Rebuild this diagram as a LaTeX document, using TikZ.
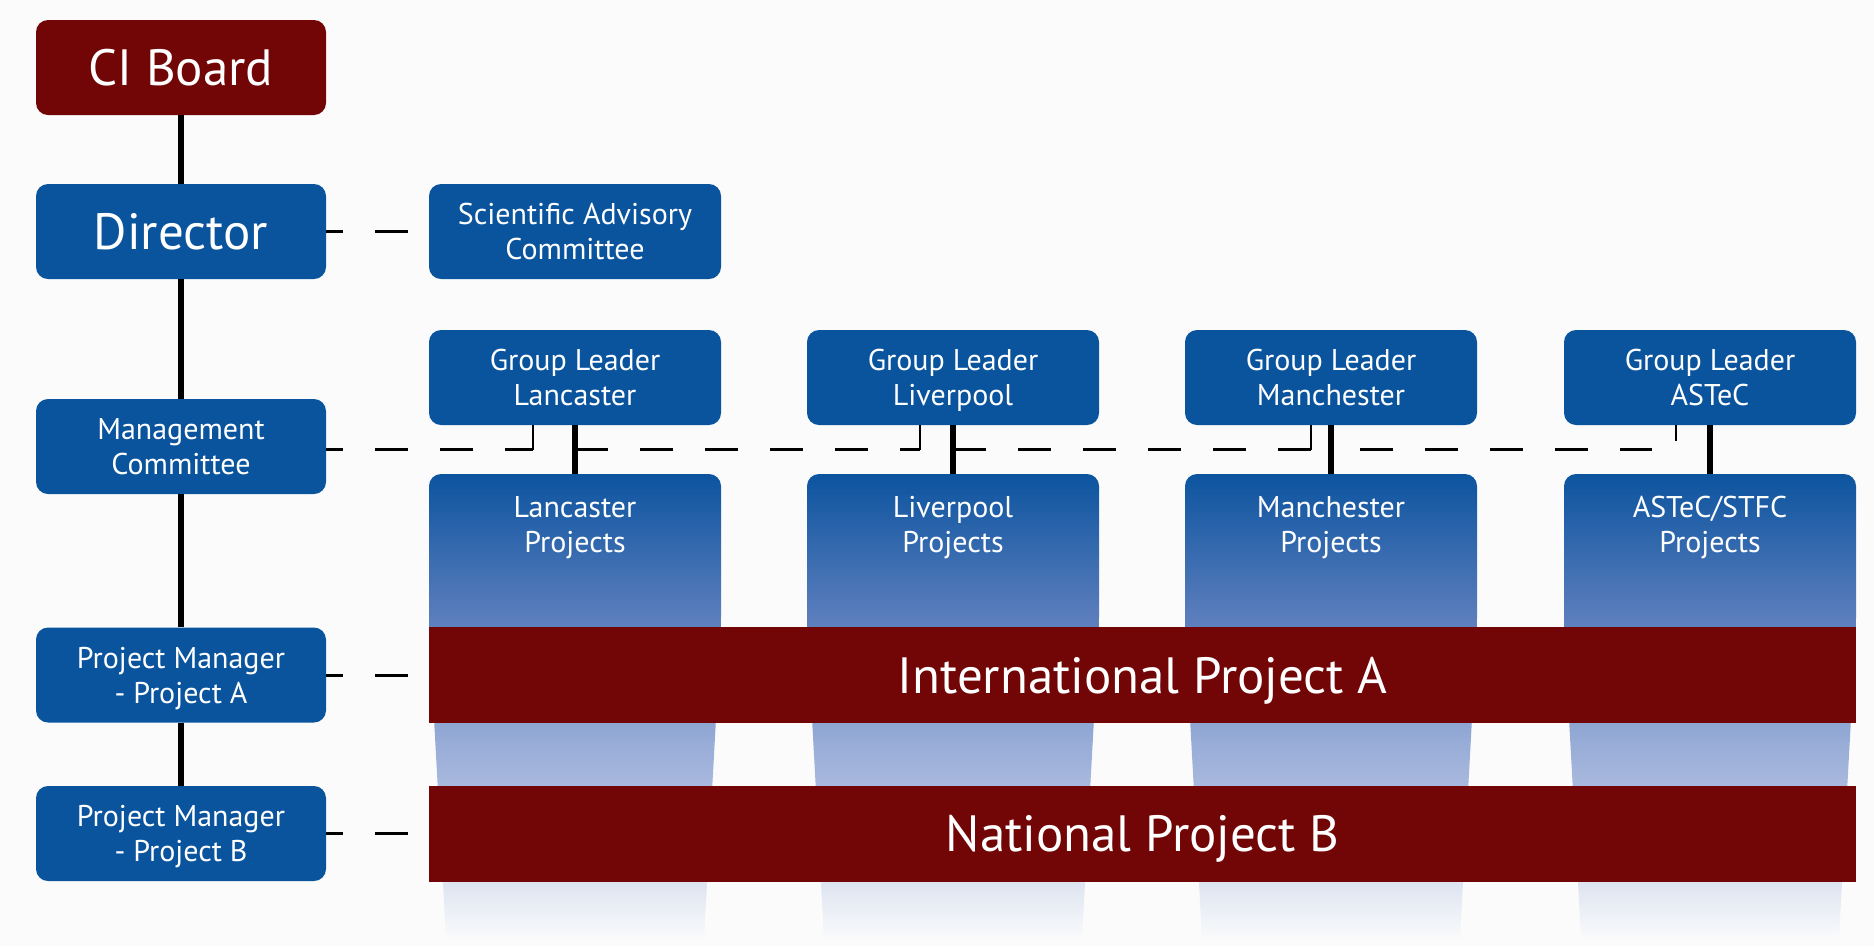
\documentclass[tikz,border=0pt]{standalone}
\usepackage{fontspec}
\setmainfont{PT Sans}
\definecolor{bgcol}{RGB}{251,251,251}
\definecolor{boxblue}{RGB}{10,84,158}
\definecolor{barred}{RGB}{114,6,6}
\definecolor{cfa}{RGB}{12,84,159}
\definecolor{cfb}{RGB}{96,128,190}
\definecolor{cfc}{RGB}{143,166,211}
\definecolor{cfd}{RGB}{169,185,222}
\definecolor{cfe}{RGB}{221,228,240}
\definecolor{cff}{RGB}{249,250,251}
% fading fill of the project columns (top dark blue, bottom background)
\pgfdeclareverticalshading{colfade}{100bp}{%
  color(0bp)=(cff); color(25bp)=(cff); color(31.1bp)=(cfe);
  color(41.4bp)=(cfd); color(48.2bp)=(cfc); color(58.5bp)=(cfb);
  color(75bp)=(cfa); color(100bp)=(cfa)}
% invisible rule spanning cap height, used to centre labels on their capitals
\newcommand\capstrut{\vrule height .7em depth 0pt width 0pt}
\begin{document}
\begin{tikzpicture}[x=1pt,y=-1pt,
  label text/.style={execute at begin node=\capstrut, text depth=0pt},
  box/.style={fill=boxblue, rounded corners=12pt, text=white, align=center,
    inner sep=0pt, minimum width=290pt, minimum height=95pt,
    font=\fontsize{30}{35}\selectfont, label text},
  bigbox/.style={box, font=\fontsize{51}{60}\selectfont},
  bar/.style={fill=barred, text=white, inner sep=0pt, minimum width=1427pt,
    minimum height=96pt, font=\fontsize{51}{60}\selectfont, label text},
  coltext/.style={text=white, align=center, font=\fontsize{30}{35}\selectfont,
    label text},
  spine/.style={line width=6.5pt, black},
  dashline/.style={line width=3pt, black, dash pattern=on 33pt off 32pt},
  tickline/.style={line width=2.5pt, black}]

% canvas
\fill[bgcol] (0,0) rectangle (1874,946);
\useasboundingbox (0,0) rectangle (1874,946);

% project columns
\foreach \cx in {575,953,1331,1710}{
  \shade[shading=colfade] (\cx-129,938) -- (\cx-146,627)
    [rounded corners=12pt] -- (\cx-146,474) -- (\cx+146,474) -- (\cx+146,627)
    [sharp corners] -- (\cx+129,938) -- cycle;
}
\node[coltext] (lanp) at (575,524) {Lancaster\\Projects};
\node[coltext] (livp) at (953,524) {Liverpool\\Projects};
\node[coltext] (manp) at (1331,524) {Manchester\\Projects};
\node[coltext] (astp) at (1710,524) {ASTeC/STFC\\Projects};
\coordinate (lantop) at (575,474);
\coordinate (livtop) at (953,474);
\coordinate (mantop) at (1331,474);
\coordinate (asttop) at (1710,474);

% project bars
\node[bar] (ipa) at (1142.5,675) {International Project A};
\node[bar] (npb) at (1142.5,833.5) {National Project B};

% left hierarchy
\node[bigbox, fill=barred] (ci) at (181,67.5) {CI Board};
\node[bigbox] (dir) at (181,231.5) {Director};
\node[box] (mc) at (181,446.5) {Management\\Committee};
\node[box] (pma) at (181,675) {Project Manager\\- Project A};
\node[box] (pmb) at (181,833.5) {Project Manager\\- Project B};

\node[box, minimum width=292pt] (sac) at (575,231.5) {Scientific Advisory\\Committee};

% group leaders
\node[box, minimum width=292pt] (gl1) at (575,377.5) {Group Leader\\Lancaster};
\node[box, minimum width=292pt] (gl2) at (953,377.5) {Group Leader\\Liverpool};
\node[box, minimum width=292pt] (gl3) at (1331,377.5) {Group Leader\\Manchester};
\node[box, minimum width=292pt] (gl4) at (1710,377.5) {Group Leader\\ASTeC};

% line management
\draw[spine] (ci.south) -- (dir.north);
\draw[spine] (dir.south) -- (mc.north);
\draw[spine] (mc.south) -- (pma.north);
\draw[spine] (pma.south) -- (pmb.north);
\draw[spine] (gl1.south) -- (lantop);
\draw[spine] (gl2.south) -- (livtop);
\draw[spine] (gl3.south) -- (mantop);
\draw[spine] (gl4.south) -- (asttop);

% advisory / coordination links
\draw[dashline, dash phase=16pt] (dir.east) -- (sac.west);
\draw[dashline, dash phase=16pt] (pma.east) -- (ipa.west);
\draw[dashline, dash phase=16pt] (pmb.east) -- (npb.west);

\coordinate (t1) at (533,449.5);
\coordinate (t2) at (920,449.5);
\coordinate (t3) at (1311,449.5);
\coordinate (t4) at (1652,449.5);
\coordinate (t4e) at (1676,441);
\draw[dashline, dash phase=16pt] (mc.east |- t1) -- (t1);
\draw[dashline] (gl1.south |- t1) -- (t2);
\draw[dashline] (gl2.south |- t2) -- (t3);
\draw[dashline, dash phase=36pt] (gl3.south |- t3) -- (t4);
\draw[tickline] (t1) -- (t1 |- gl1.south);
\draw[tickline] (t2) -- (t2 |- gl2.south);
\draw[tickline] (t3) -- (t3 |- gl3.south);
\draw[tickline] (t4e) -- (t4e |- gl4.south);
\end{tikzpicture}
\end{document}
